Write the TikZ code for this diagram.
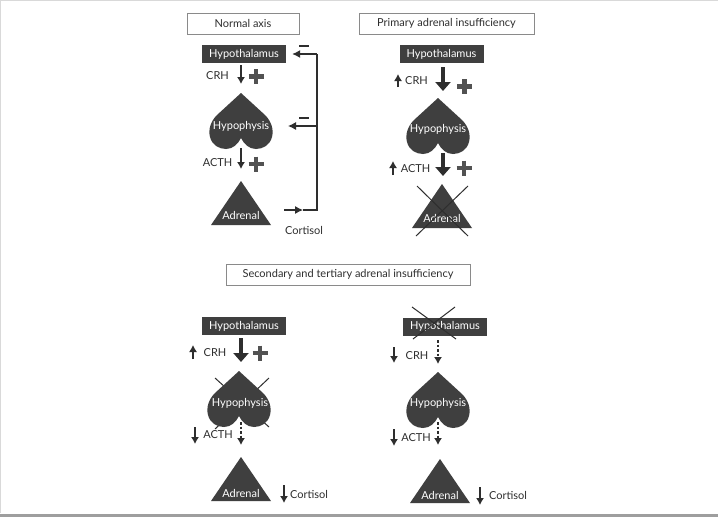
\documentclass[tikz,border=0pt]{standalone}
\usepackage{fontspec}
\setmainfont{Lato}
\usetikzlibrary{arrows.meta,calc}

\definecolor{organ}{HTML}{3F3F3F}
\definecolor{framegray}{HTML}{8A8A8A}
\definecolor{inkgray}{HTML}{2E2E2E}

\tikzset{
	bodyfont/.style={font=\fontsize{11}{13}\selectfont},
	organbox/.style={bodyfont, fill=organ, text=white, inner sep=0pt, minimum width=84pt, minimum height=18pt},
	organtext/.style={bodyfont, text=white, inner sep=0pt},
	titlebox/.style={bodyfont, draw=framegray, line width=0.8pt, text=inkgray, inner sep=0pt, minimum height=21pt},
	hormone/.style={bodyfont, text=inkgray, inner sep=0pt},
	thinarrow/.style={draw=inkgray, line width=1.2pt, -{Latex[length=7pt,width=8pt]}},
	dasharrow/.style={thinarrow, dash pattern=on 2.5pt off 2pt},
	boldarrow/.style={draw=inkgray, line width=3.5pt, -{Triangle[length=9pt,width=15pt]}},
	fbline/.style={draw=inkgray, line width=1.1pt},
	fbarrow/.style={fbline, -{Latex[length=8pt,width=8pt]}},
	plussign/.style={draw=organ!90, line width=4.5pt},
	minussign/.style={draw=inkgray, line width=1.3pt},
	crossline/.style={draw=inkgray, line width=1pt},
	heart/.pic={
		\fill[organ] (0,0) -- (-24,22) .. controls (-30,28) and (-33,36) .. (-31,44)
		.. controls (-29,52) and (-22,56) .. (-15,56) .. controls (-8,56) and (-3,51) .. (0,45)
		.. controls (3,51) and (8,56) .. (15,56) .. controls (22,56) and (29,52) .. (31,44)
		.. controls (33,36) and (30,28) .. (24,22) -- cycle;
	},
	gland/.pic={
		\fill[organ] (0,0) -- (30,44) -- (-30,44) -- cycle;
	}
}

\begin{document}
\begin{tikzpicture}[x=1pt, y=-1pt]
	
	% ----------------------------
	% 0) Canvas and frame
	% ----------------------------
	\useasboundingbox (0,0) rectangle (718,517);
	\fill[white] (0,0) rectangle (718,517);
	\draw[black!15, line width=1.5pt] (0.5,513) -- (0.5,0.5) -- (718,0.5);
	\fill[black!38] (0,513.5) rectangle (718,517);
	
	% ----------------------------
	% 1) Titles
	% ----------------------------
	\node[titlebox, minimum width=112pt] (tnormal) at (243,23.5) {Normal axis};
	\node[titlebox, minimum width=175pt] (tprimary) at (446.5,23.5) {Primary adrenal insufficiency};
	\node[titlebox, minimum width=244pt] (tsecondary) at (348,274.5) {Secondary and tertiary adrenal insufficiency};
	
	% ----------------------------
	% 2) Normal axis
	% ----------------------------
	\node[organbox] (hyp1) at (244,54) {Hypothalamus};
	\pic at (241,93) {heart};
	\node[organtext] (pit1) at (241,126) {Hypophysis};
	\pic at (241,181) {gland};
	\node[organtext] (adr1) at (241,215) {Adrenal};
	
	\node[hormone] (crh1) at (217.5,76) {CRH};
	\node[hormone] (acth1) at (217.5,163) {ACTH};
	\draw[thinarrow] (241,65) -- (241,84);
	\draw[thinarrow] (241,148) -- (241,169);
	
	% feedback loop
	\coordinate (fbtop) at (317,54);
	\coordinate (fbmid) at (317,126);
	\coordinate (fbbot) at (317,210);
	\coordinate (cortout) at (284,210);
	\coordinate (cortmid) at (303,210);
	\coordinate (pitin1) at (288,126);
	\draw[fbarrow] (cortout) -- (cortmid);
	\draw[fbline] (cortmid) -- (fbbot) -- (fbtop);
	\draw[fbarrow, shorten >=6pt] (fbtop) -- (hyp1.east);
	\draw[fbarrow] (fbmid) -- (pitin1);
	\draw[minussign] (299,46) -- ++(10,0);
	\draw[minussign] (299,118) -- ++(10,0);
	\node[hormone] (cort1) at (304,230) {Cortisol};
	
	% ----------------------------
	% 3) Primary adrenal insufficiency
	% ----------------------------
	\node[organbox] (hyp2) at (441.5,54) {Hypothalamus};
	\pic at (438,98) {heart};
	\node[organtext] (pit2) at (438,129) {Hypophysis};
	\pic at (442,184) {gland};
	\node[organtext] (adr2) at (442,218) {Adrenal};
	\draw[crossline] (417,186) -- (468,236);
	\draw[crossline] (468,186) -- (416,236);
	
	\node[hormone] (crh2) at (416.5,81) {CRH};
	\node[hormone] (acth2) at (415.5,169) {ACTH};
	\draw[thinarrow] (398,87) -- (398,74);
	\draw[thinarrow] (393,175) -- (393,161);
	\draw[boldarrow] (443,67) -- (443,91);
	\draw[boldarrow] (443,153) -- (443,176);
	
	% ----------------------------
	% 4) Secondary (left) and tertiary (right)
	% ----------------------------
	\node[organbox] (hyp3) at (244,326) {Hypothalamus};
	\draw[crossline] (215,378) -- (269,427);
	\draw[crossline] (269,378) -- (215,429);
	\pic at (239,371) {heart};
	\node[organtext] (pit3) at (240,403) {Hypophysis};
	\pic at (241,457) {gland};
	\node[organtext] (adr3) at (241,493) {Adrenal};
	
	\node[hormone] (crh3) at (215,353) {CRH};
	\node[hormone] (acth3) at (218,435) {ACTH};
	\node[hormone] (cort3) at (309,494) {Cortisol};
	\draw[thinarrow] (193,359) -- (193,345);
	\draw[boldarrow] (241,338) -- (241,362);
	\draw[thinarrow] (195,427) -- (195,444);
	\draw[dasharrow] (241,422) -- (241,445);
	\draw[thinarrow] (284,485) -- (284,503);
	
	\node[organbox] (hyp4) at (445,326.5) {Hypothalamus};
	\draw[crossline] (412,307) -- (456,339);
	\draw[crossline] (455,307) -- (413,339);
	\pic at (438,372) {heart};
	\node[organtext] (pit4) at (438,403) {Hypophysis};
	\pic at (440,459) {gland};
	\node[organtext] (adr4) at (440,495) {Adrenal};
	
	\node[hormone] (crh4) at (417,356) {CRH};
	\node[hormone] (acth4) at (416,438) {ACTH};
	\node[hormone] (cort4) at (508,495) {Cortisol};
	\draw[thinarrow] (394,347) -- (394,363);
	\draw[dasharrow] (438,340) -- (438,364);
	\draw[thinarrow] (394,429) -- (394,446);
	\draw[dasharrow] (438,422) -- (438,445);
	\draw[thinarrow] (480,487) -- (480,505);
	
	% ----------------------------
	% 5) Plus signs
	% ----------------------------
	\foreach \p in {(256,76.5),(256,164),(464.5,86.5),(464,168),(260,353)}{
		\draw[plussign] \p ++(-7.5,0) -- ++(15,0) \p ++(0,-7.5) -- ++(0,15);
	}
	
\end{tikzpicture}
\end{document}
